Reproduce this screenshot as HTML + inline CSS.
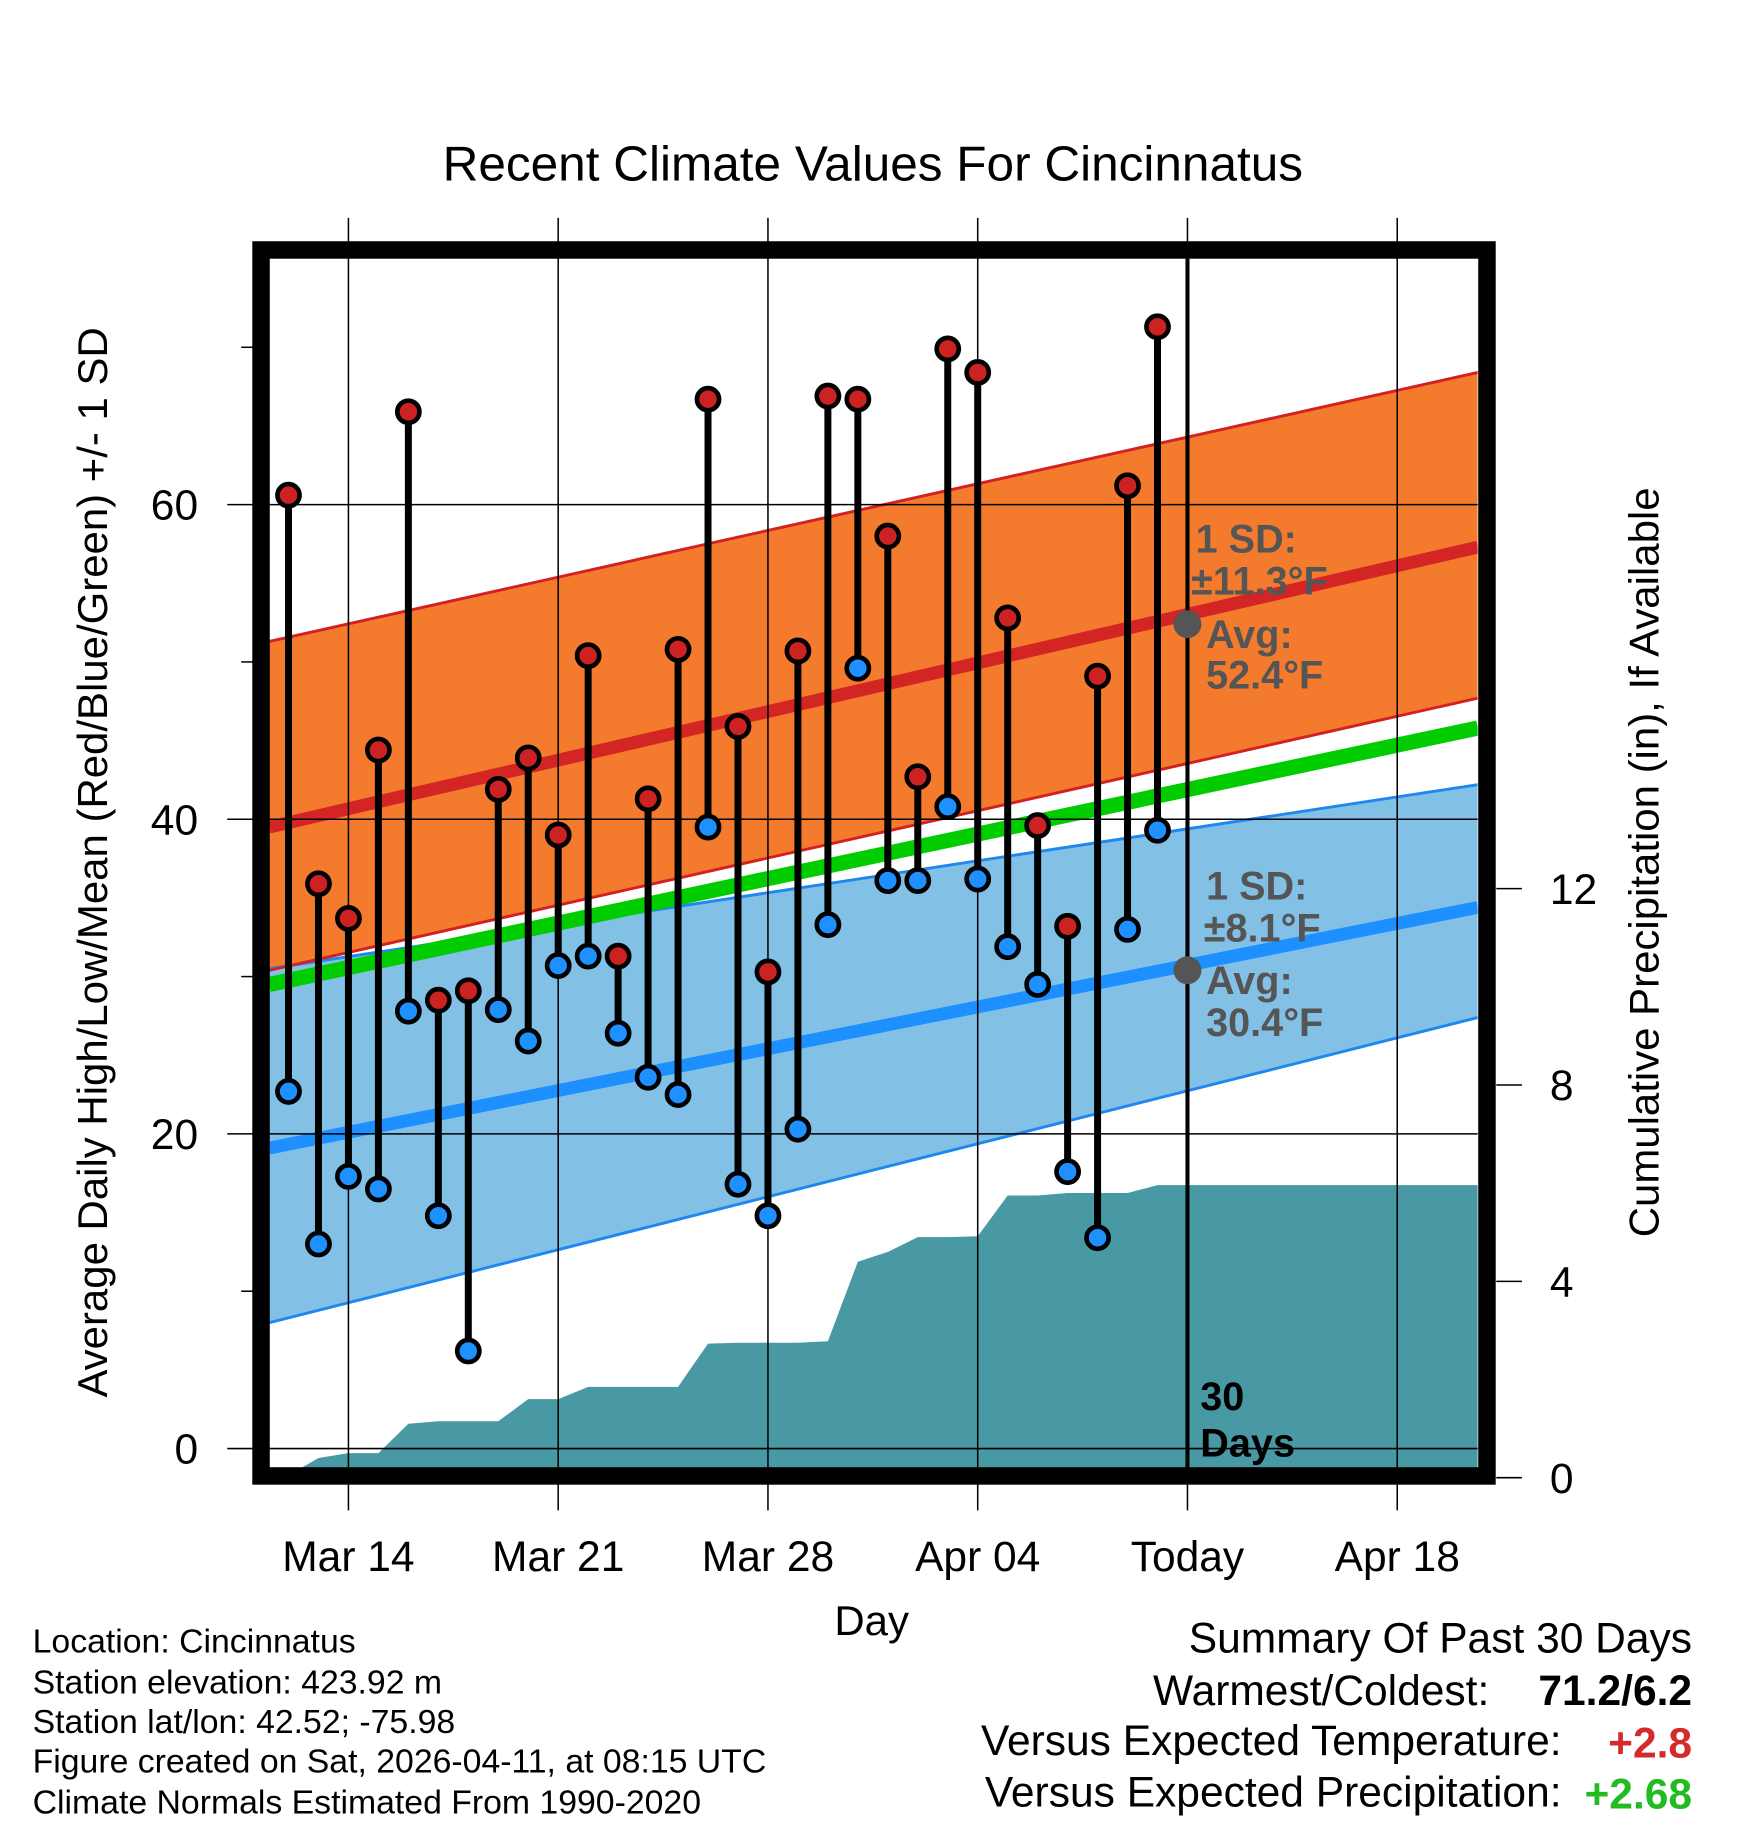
<!DOCTYPE html>
<html><head><meta charset="utf-8"><style>html,body{margin:0;padding:0;background:#fff}svg{display:block}text{font-family:"Liberation Sans",sans-serif}</style></head>
<body>
<svg id="chart" width="1748" height="1828" viewBox="0 0 1500 1568.6" preserveAspectRatio="none" xmlns="http://www.w3.org/2000/svg">
<text x="749" y="155" font-size="42.5" text-anchor="middle">Recent Climate Values For Cincinnatus</text>
<g id="plot"></g>
<text transform="translate(92,740) rotate(-90)" font-size="36" text-anchor="middle">Average Daily High/Low/Mean (Red/Blue/Green) +/- 1 SD</text>
<text transform="translate(1423,740) rotate(-90)" font-size="36" text-anchor="middle">Cumulative Precipitation (in), If Available</text>
<text x="748" y="1403" font-size="36" text-anchor="middle">Day</text>
<g font-size="29">
<text x="28" y="1418">Location: Cincinnatus</text>
<text x="28" y="1453">Station elevation: 423.92 m</text>
<text x="28" y="1487">Station lat/lon: 42.52; -75.98</text>
<text x="28" y="1521">Figure created on Sat, 2026-04-11, at 08:15 UTC</text>
<text x="28" y="1556">Climate Normals Estimated From 1990-2020</text>
</g>
<g font-size="36.5">
<text x="1452" y="1418" text-anchor="end">Summary Of Past 30 Days</text>
<text x="1278" y="1463" text-anchor="end">Warmest/Coldest:</text>
<text x="1452" y="1463" text-anchor="end" font-weight="bold">71.2/6.2</text>
<text x="1340" y="1506" text-anchor="end">Versus Expected Temperature:</text>
<text x="1452" y="1508" text-anchor="end" font-weight="bold" fill="#d42a2a">+2.8</text>
<text x="1340" y="1550" text-anchor="end">Versus Expected Precipitation:</text>
<text x="1452" y="1552" text-anchor="end" font-weight="bold" fill="#22bb22">+2.68</text>
</g>
</svg>
<script>
// day offsets from Mar 14
const days = [-2,-1,0,1,2,3,4,5,6,7,8,9,10,11,12,13,14,15,16,17,18,19,20,21,22,23,24,25,26,27];
const highs = [60.6,35.9,33.7,44.4,65.9,28.5,29.1,41.9,43.9,39.0,50.4,31.3,41.3,50.8,66.7,45.9,30.3,50.7,66.9,66.7,58.0,42.7,69.9,68.4,52.8,39.6,33.2,49.1,61.2,71.3];
const lows = [22.7,13.0,17.3,16.5,27.8,14.8,6.2,27.9,25.9,30.7,31.3,26.4,23.6,22.5,39.5,16.8,14.8,20.3,33.3,49.6,36.1,36.1,40.8,36.2,31.9,29.5,17.6,13.4,33.0,39.3];
const precip = [0.05,0.4,0.5,0.5,1.1,1.15,1.15,1.15,1.6,1.6,1.85,1.85,1.85,1.85,2.73,2.75,2.75,2.75,2.78,4.4,4.6,4.9,4.9,4.92,5.75,5.75,5.8,5.8,5.8,5.96];
const normDays = [-2.645,37.69];
const normHighMean = [39.5,57.3];
const normHighUpper = [51.3,68.4];
const normHighLower = [30.4,47.7];
const normLowMean = [19.1,34.4];
const normLowUpper = [30.5,42.2];
const normLowLower = [8.0,27.4];
const normMean = [29.5,45.8];
const xTickDays = [0,7,14,21,28,35];
const xTickLabels = ["Mar 14","Mar 21","Mar 28","Apr 04","Today","Apr 18"];
const yTicks = [0,20,40,60];
const yMinor = [10,30,50,70];
const y2Ticks = [0,4,8,12];
const todayDay = 28;

const X0=231,X1=1268,Y0=222,Y1=1260;
const xDay=d=>299+d*25.714;
const yT=v=>1243-13.5*v;
const yP=p=>1268-42.12*p;
const NS="http://www.w3.org/2000/svg";
const plot=document.getElementById('plot');
function mk(tag,attrs,parent){const e=document.createElementNS(NS,tag);for(const k in attrs)e.setAttribute(k,attrs[k]);(parent||plot).appendChild(e);return e;}
function bandPath(up,lo){return `M${xDay(normDays[0])},${yT(up[0])} L${xDay(normDays[1])},${yT(up[1])} L${xDay(normDays[1])},${yT(lo[1])} L${xDay(normDays[0])},${yT(lo[0])} Z`;}
function seg(arr){return `M${xDay(normDays[0])},${yT(arr[0])} L${xDay(normDays[1])},${yT(arr[1])}`;}

const defs=mk('defs',{});
const cp=mk('clipPath',{id:'pc'},defs);
mk('rect',{x:X0,y:Y0,width:X1-X0,height:Y1-Y0},cp);
const g=mk('g',{'clip-path':'url(#pc)'});

let e;
e=mk('path',{d:bandPath(normLowUpper,normLowLower),fill:'#82c0e6'},g);


e=mk('path',{d:bandPath(normHighUpper,normHighLower),fill:'#f47b2e'},g);


[[normLowUpper,'#1e88ee',2.5],[normLowLower,'#1e88ee',2.5],[normHighUpper,'#d42020',2.5],[normHighLower,'#d42020',2.5],[normLowMean,'#1e8fff',11],[normHighMean,'#d42525',11],[normMean,'#00cc00',13]].forEach((a,i)=>{
  e=mk('path',{d:seg(a[0]),stroke:a[1],'stroke-width':a[2],fill:'none'},g);
  
  
});
let pd=`M${xDay(days[0])},${Y1+5}`;
days.forEach((d,i)=>{pd+=` L${xDay(d)},${yP(precip[i])}`;});
pd+=` L${X1+5},${yP(precip[precip.length-1])} L${X1+5},${Y1+5} Z`;
e=mk('path',{d:pd,fill:'#4899a3'},g);



xTickDays.forEach((d,i)=>{
  e=mk('line',{x1:xDay(d),x2:xDay(d),y1:187,y2:1296,stroke:'#000','stroke-width':1.3});
  
  
  e=mk('text',{x:xDay(d),y:1348,'font-size':36.5,'text-anchor':'middle'});
  e.textContent=xTickLabels[i];
  
  
});
yTicks.forEach(v=>{
  e=mk('line',{x1:195,x2:X1,y1:yT(v),y2:yT(v),stroke:'#000','stroke-width':1.3});
  
  
  e=mk('text',{x:170,y:yT(v)+13,'font-size':36.5,'text-anchor':'end'});
  e.textContent=v;
  
  
});
yMinor.forEach(v=>{
  e=mk('line',{x1:207,x2:217,y1:yT(v),y2:yT(v),stroke:'#000','stroke-width':1.3});
  
  
});
y2Ticks.forEach(p=>{
  e=mk('line',{x1:1284,x2:1306,y1:yP(p),y2:yP(p),stroke:'#000','stroke-width':1.3});
  
  
  e=mk('text',{x:1330,y:yP(p)+13,'font-size':36.5});
  e.textContent=p;
  
  
});

e=mk('line',{x1:xDay(todayDay),x2:xDay(todayDay),y1:Y0,y2:Y1,stroke:'#000','stroke-width':3.5});



days.forEach((d,i)=>{
  e=mk('line',{x1:xDay(d),x2:xDay(d),y1:yT(highs[i]),y2:yT(lows[i]),stroke:'#000','stroke-width':6});
  
  
});
days.forEach((d,i)=>{
  e=mk('circle',{cx:xDay(d),cy:yT(highs[i]),r:9.5,fill:'#cc2222',stroke:'#000','stroke-width':4});
  
  
  e=mk('circle',{cx:xDay(d),cy:yT(lows[i]),r:9.5,fill:'#1e90ff',stroke:'#000','stroke-width':4});
  
  
});

e=mk('circle',{cx:xDay(todayDay),cy:yT(52.4),r:12,fill:'#555'});


e=mk('circle',{cx:xDay(todayDay),cy:yT(30.4),r:12,fill:'#555'});


function lbl(t,x,y,fill,name){const el=mk('text',{x:x,y:y,'font-size':34,'font-weight':'bold',fill:fill});el.textContent=t;}
lbl('1 SD:',1026,474,'#555','high-sd-label');
lbl('±11.3°F',1022,510,'#555','high-sd-value');
lbl('Avg:',1035,556,'#555','high-avg-label');
lbl('52.4°F',1035,591,'#555','high-avg-value');
lbl('1 SD:',1035,772,'#555','low-sd-label');
lbl('±8.1°F',1033,808,'#555','low-sd-value');
lbl('Avg:',1035,853,'#555','low-avg-label');
lbl('30.4°F',1035,889,'#555','low-avg-value');
lbl('30',1030,1210,'#000','days-count');
lbl('Days',1030,1250,'#000','days-label');

e=mk('rect',{x:224,y:214.5,width:1052,height:1052,fill:'none',stroke:'#000','stroke-width':15});


</script>
</body></html>
